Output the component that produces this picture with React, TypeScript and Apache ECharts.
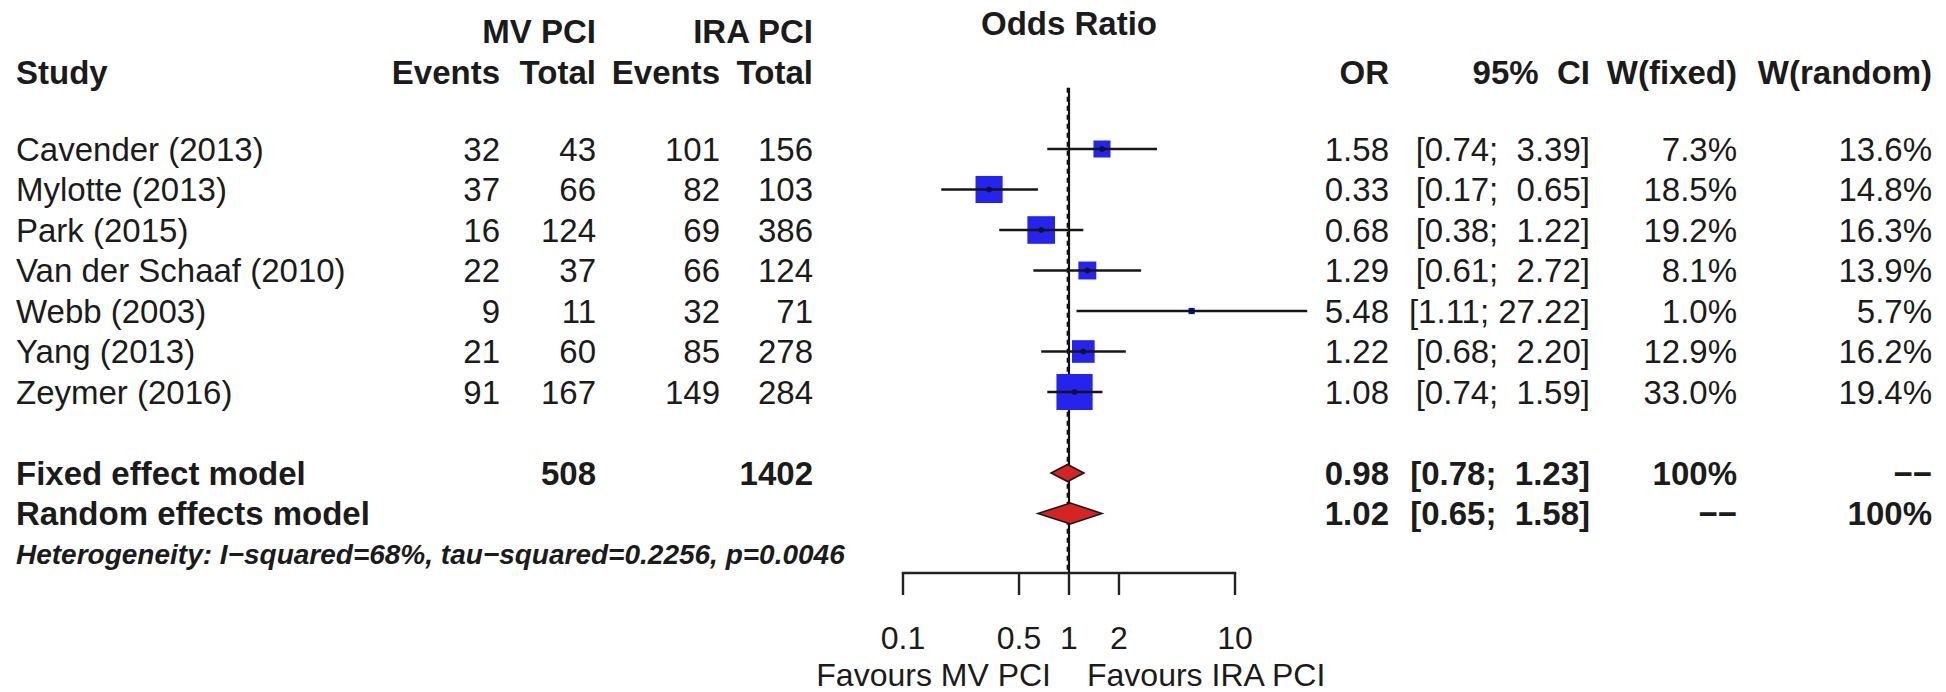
import React, { useEffect, useRef } from "react";
import * as echarts from "echarts";

// ---------------- data ----------------
const studies = [
  "Cavender (2013)",
  "Mylotte (2013)",
  "Park (2015)",
  "Van der Schaaf (2010)",
  "Webb (2003)",
  "Yang (2013)",
  "Zeymer (2016)",
];
const mvEvents = [32, 37, 16, 22, 9, 21, 91];
const mvTotal = [43, 66, 124, 37, 11, 60, 167];
const iraEvents = [101, 82, 69, 66, 32, 85, 149];
const iraTotal = [156, 103, 386, 124, 71, 278, 284];
const orValues = [1.58, 0.33, 0.68, 1.29, 5.48, 1.22, 1.08];
const ciLower = [0.74, 0.17, 0.38, 0.61, 1.11, 0.68, 0.74];
const ciUpper = [3.39, 0.65, 1.22, 2.72, 27.22, 2.2, 1.59];
const weightFixed = [7.3, 18.5, 19.2, 8.1, 1.0, 12.9, 33.0];
const weightRandom = [13.6, 14.8, 16.3, 13.9, 5.7, 16.2, 19.4];

const summaryLabels = ["Fixed effect model", "Random effects model"];
const summaryOR = [0.98, 1.02];
const summaryLower = [0.78, 0.65];
const summaryUpper = [1.23, 1.58];
const summaryWFixed = ["100%", "\u2212\u2212"];
const summaryWRandom = ["\u2212\u2212", "100%"];
const totalMV = 508;
const totalIRA = 1402;

const tickValues = [0.1, 0.5, 1, 2, 10];
const tickLabels = ["0.1", "0.5", "1", "2", "10"];
const heterogeneityText =
  "Heterogeneity: I\u2212squared=68%, tau\u2212squared=0.2256, p=0.0046";
const labelLeft = "Favours MV PCI";
const labelRight = "Favours IRA PCI";

// ---------------- layout ----------------
const W = 1946;
const H = 692;
const ROW0_Y = 149;
const ROW_H = 40.5;
const Y_MIN = -3;
const Y_MAX = 11;
const GRID_LEFT = 903;
const GRID_RIGHT_PX = 1235;

const ROW_TITLE = -3.11;
const ROW_GROUP = -2.89;
const ROW_HEADER = -1.9;
const ROW_REF_TOP = -1.51;
const ROW_FIXED = 8;
const ROW_HET = 10.02;
const ROW_AXIS = 10.47;
const ROW_TICKLABEL = 12.07;
const ROW_XLAB = 12.99;

const COL = {
  study: 16,
  mvEvents: 500,
  mvTotal: 596,
  iraEvents: 720,
  iraTotal: 813,
  or: 1389,
  ci: 1590,
  wFixed: 1737,
  wRandom: 1932,
};

const FONT = '"Liberation Sans", Arial, Helvetica, sans-serif';
const TXT = "#1b1b1b";
const BLUE = "#2424ee";
const RED = "#d42424";
const SQUARE_K = 6.3;
const DIAMOND_H = [17, 21];

function ciStr(lo: number, hi: number) {
  const h = hi.toFixed(2);
  return "[" + lo.toFixed(2) + ";" + (h.length < 5 ? "  " : " ") + h + "]";
}
function pct(v: number) {
  return v.toFixed(1) + "%";
}

function txt(text: string, x: number, y: number, opts: any = {}) {
  const align = opts.align || "right";
  return {
    type: "text",
    style: {
      text,
      x,
      y,
      fill: TXT,
      fontSize: opts.fontSize || 33,
      fontFamily: FONT,
      fontWeight: opts.fontWeight || "normal",
      fontStyle: opts.fontStyle || "normal",
      align,
      textAlign: align,
      verticalAlign: "middle",
      textVerticalAlign: "middle",
    },
  };
}

export default function App() {
  const ref = useRef<HTMLDivElement>(null);

  useEffect(() => {
    document.body.style.margin = "0";
    if (!ref.current) return;
    const chart = echarts.init(ref.current, null, { renderer: "svg" });

    const option: any = {
      animation: false,
      grid: {
        left: GRID_LEFT,
        right: W - GRID_RIGHT_PX,
        top: ROW0_Y + Y_MIN * ROW_H,
        bottom: H - (ROW0_Y + Y_MAX * ROW_H),
      },
      xAxis: { type: "log", logBase: 10, min: 0.1, max: 10, show: false },
      yAxis: { type: "value", inverse: true, min: Y_MIN, max: Y_MAX, show: false },
      series: [
        // reference line at 1 and dashed fixed-effect line
        {
          type: "custom",
          clip: false,
          silent: true,
          data: [[1, ROW_REF_TOP], [summaryOR[0], ROW_REF_TOP]],
          encode: { x: 0, y: 1 },
          renderItem: (params: any, api: any) => {
            const v = api.value(0);
            const p1 = api.coord([v, ROW_REF_TOP]);
            const p2 = api.coord([v, ROW_AXIS]);
            const dashed = params.dataIndex === 1;
            return {
              type: "line",
              shape: { x1: p1[0], y1: p1[1], x2: p2[0], y2: p2[1] },
              style: {
                stroke: "#111",
                lineWidth: dashed ? 1.8 : 2.2,
                lineDash: dashed ? [5, 4] : null,
              },
            };
          },
        },
        // study CIs and squares
        {
          type: "custom",
          clip: false,
          silent: true,
          data: orValues.map((v, i) => [v, i, ciLower[i], ciUpper[i], weightFixed[i]]),
          encode: { x: 0, y: 1 },
          renderItem: (params: any, api: any) => {
            const est = api.value(0);
            const row = api.value(1);
            const c = api.coord([est, row]);
            const l = api.coord([api.value(2), row]);
            const h = api.coord([api.value(3), row]);
            const s = SQUARE_K * Math.sqrt(api.value(4));
            return {
              type: "group",
              children: [
                {
                  type: "rect",
                  shape: { x: c[0] - s / 2, y: c[1] - s / 2, width: s, height: s },
                  style: { fill: BLUE },
                },
                {
                  type: "line",
                  shape: { x1: l[0], y1: l[1], x2: h[0], y2: h[1] },
                  style: { stroke: "#161616", lineWidth: 2.4 },
                },
                {
                  type: "circle",
                  shape: { cx: c[0], cy: c[1], r: 3 },
                  style: { fill: "#10103a" },
                },
              ],
            };
          },
        },
        // summary diamonds
        {
          type: "custom",
          clip: false,
          silent: true,
          data: summaryOR.map((v, k) => [v, ROW_FIXED + k, summaryLower[k], summaryUpper[k]]),
          encode: { x: 0, y: 1 },
          renderItem: (params: any, api: any) => {
            const row = api.value(1);
            const c = api.coord([api.value(0), row]);
            const l = api.coord([api.value(2), row]);
            const h = api.coord([api.value(3), row]);
            const hh = DIAMOND_H[params.dataIndex] / 2;
            return {
              type: "polygon",
              shape: {
                points: [
                  [l[0], c[1]],
                  [c[0], c[1] - hh],
                  [h[0], c[1]],
                  [c[0], c[1] + hh],
                ],
              },
              style: { fill: RED, stroke: "#1a1a1a", lineWidth: 1.6 },
            };
          },
        },
        // x axis (ticks, labels)
        {
          type: "custom",
          clip: false,
          silent: true,
          data: tickValues.map((v) => [v, ROW_AXIS]),
          encode: { x: 0, y: 1 },
          renderItem: (params: any, api: any) => {
            const v = api.value(0);
            const p = api.coord([v, ROW_AXIS]);
            const ly = api.coord([v, ROW_TICKLABEL])[1];
            const children: any[] = [
              {
                type: "line",
                shape: { x1: p[0], y1: p[1], x2: p[0], y2: p[1] + 22 },
                style: { stroke: "#222", lineWidth: 2.4 },
              },
              txt(tickLabels[params.dataIndex], p[0], ly, { align: "center", fontSize: 32 }),
            ];
            if (params.dataIndex === 0) {
              const a = api.coord([tickValues[0], ROW_AXIS]);
              const b = api.coord([tickValues[tickValues.length - 1], ROW_AXIS]);
              children.push({
                type: "line",
                shape: { x1: a[0] - 1.2, y1: a[1], x2: b[0] + 1.2, y2: b[1] },
                style: { stroke: "#222", lineWidth: 2.4 },
              });
            }
            return { type: "group", children };
          },
        },
        // title and favours labels
        {
          type: "custom",
          clip: false,
          silent: true,
          data: [[1, ROW_TITLE]],
          encode: { x: 0, y: 1 },
          renderItem: (params: any, api: any) => {
            const t = api.coord([1, ROW_TITLE]);
            const f = api.coord([1, ROW_XLAB]);
            return {
              type: "group",
              children: [
                txt("Odds Ratio", t[0], t[1], { align: "center", fontWeight: "bold" }),
                txt(labelLeft, f[0] - 18, f[1], { align: "right", fontSize: 32 }),
                txt(labelRight, f[0] + 18, f[1], { align: "left", fontSize: 32 }),
              ],
            };
          },
        },
        // table header
        {
          type: "custom",
          clip: false,
          silent: true,
          data: [[1, ROW_HEADER]],
          encode: { x: 0, y: 1 },
          renderItem: (params: any, api: any) => {
            const yg = api.coord([1, ROW_GROUP])[1];
            const yh = api.coord([1, ROW_HEADER])[1];
            const b = { fontWeight: "bold" };
            return {
              type: "group",
              children: [
                txt("MV PCI", COL.mvTotal, yg, b),
                txt("IRA PCI", COL.iraTotal, yg, b),
                txt("Study", COL.study, yh, { align: "left", fontWeight: "bold" }),
                txt("Events", COL.mvEvents, yh, b),
                txt("Total", COL.mvTotal, yh, b),
                txt("Events", COL.iraEvents, yh, b),
                txt("Total", COL.iraTotal, yh, b),
                txt("OR", COL.or, yh, b),
                txt("95%  CI", COL.ci, yh, b),
                txt("W(fixed)", COL.wFixed, yh, b),
                txt("W(random)", COL.wRandom, yh, b),
              ],
            };
          },
        },
        // table: studies
        {
          type: "custom",
          clip: false,
          silent: true,
          data: studies.map((_, i) => [1, i]),
          encode: { x: 0, y: 1 },
          renderItem: (params: any, api: any) => {
            const i = params.dataIndex;
            const y = api.coord([1, api.value(1)])[1];
            return {
              type: "group",
              children: [
                txt(studies[i], COL.study, y, { align: "left" }),
                txt(String(mvEvents[i]), COL.mvEvents, y),
                txt(String(mvTotal[i]), COL.mvTotal, y),
                txt(String(iraEvents[i]), COL.iraEvents, y),
                txt(String(iraTotal[i]), COL.iraTotal, y),
                txt(orValues[i].toFixed(2), COL.or, y),
                txt(ciStr(ciLower[i], ciUpper[i]), COL.ci, y),
                txt(pct(weightFixed[i]), COL.wFixed, y),
                txt(pct(weightRandom[i]), COL.wRandom, y),
              ],
            };
          },
        },
        // table: summaries + heterogeneity
        {
          type: "custom",
          clip: false,
          silent: true,
          data: summaryLabels.map((_, k) => [1, ROW_FIXED + k]),
          encode: { x: 0, y: 1 },
          renderItem: (params: any, api: any) => {
            const k = params.dataIndex;
            const y = api.coord([1, api.value(1)])[1];
            const b = { fontWeight: "bold" };
            const children: any[] = [
              txt(summaryLabels[k], COL.study, y, { align: "left", fontWeight: "bold" }),
              txt(summaryOR[k].toFixed(2), COL.or, y, b),
              txt(ciStr(summaryLower[k], summaryUpper[k]), COL.ci, y, b),
              txt(summaryWFixed[k], COL.wFixed, y, b),
              txt(summaryWRandom[k], COL.wRandom, y, b),
            ];
            if (k === 0) {
              children.push(txt(String(totalMV), COL.mvTotal, y, b));
              children.push(txt(String(totalIRA), COL.iraTotal, y, b));
            } else {
              const yh = api.coord([1, ROW_HET])[1];
              children.push(
                txt(heterogeneityText, COL.study, yh, {
                  align: "left",
                  fontWeight: "bold",
                  fontStyle: "italic",
                  fontSize: 28,
                })
              );
            }
            return { type: "group", children };
          },
        },
      ],
    };

    chart.setOption(option);
    return () => chart.dispose();
  }, []);

  return <div ref={ref} style={{ width: W, height: H, background: "#fff" }} />;
}
